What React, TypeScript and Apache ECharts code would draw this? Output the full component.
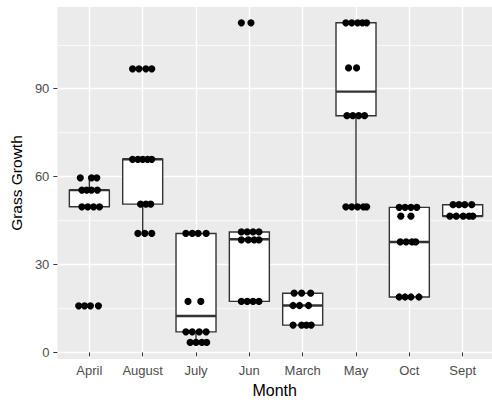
import React, { useEffect, useRef } from "react";
import * as echarts from "echarts";

const months = ["April", "August", "July", "Jun", "March", "May", "Oct", "Sept"];
const yTicks = [0, 30, 60, 90];
const yMinorTicks = [15, 45, 75, 105];

// box statistics per month: lower whisker, Q1, median, Q3, upper whisker
const boxLow = [49.7, 40.6, 3.4, 17.4, 9.3, 49.7, 18.9, 46.5];
const boxQ1 = [49.7, 50.6, 7.0, 17.4, 9.3, 80.8, 18.9, 46.5];
const boxMedian = [55.4, 65.9, 12.4, 38.6, 16.0, 89.0, 37.7, 46.5];
const boxQ3 = [55.4, 65.9, 40.6, 41.1, 20.2, 112.5, 49.5, 50.4];
const boxHigh = [59.6, 65.9, 40.6, 41.1, 20.2, 112.5, 49.5, 50.4];

// jittered observations per month
const pointValues: number[][] = [
  [59.6, 59.6, 59.6, 55.4, 55.4, 55.4, 55.4, 49.7, 49.7, 49.7, 49.7, 15.9, 15.9, 15.9, 15.9],
  [96.8, 96.8, 96.8, 96.8, 65.9, 65.9, 65.9, 65.9, 65.9, 50.6, 50.6, 50.6, 40.6, 40.6, 40.6],
  [40.6, 40.6, 40.6, 40.6, 17.4, 17.4, 7.0, 7.0, 7.0, 7.0, 3.4, 3.4, 3.4, 3.4],
  [112.5, 112.5, 41.1, 41.1, 41.1, 41.1, 38.4, 38.4, 38.4, 38.4, 17.4, 17.4, 17.4, 17.4],
  [20.2, 20.2, 20.2, 16.0, 16.0, 16.0, 9.3, 9.3, 9.3, 9.3],
  [112.5, 112.5, 112.5, 112.5, 112.5, 97.1, 97.1, 80.8, 80.8, 80.8, 80.8, 49.7, 49.7, 49.7, 49.7, 49.7],
  [49.5, 49.5, 49.5, 49.5, 46.5, 46.5, 37.7, 37.7, 37.7, 37.7, 18.9, 18.9, 18.9, 18.9],
  [50.4, 50.4, 50.4, 50.4, 46.5, 46.5, 46.5, 46.5, 46.5],
];
const pointJitter: number[][] = [
  [-0.17, 0.04, 0.14, -0.14, -0.05, 0.04, 0.15, -0.14, -0.03, 0.08, 0.19, -0.2, -0.09, 0.02, 0.17],
  [-0.19, -0.07, 0.06, 0.17, -0.19, -0.09, 0.0, 0.09, 0.17, -0.04, 0.06, 0.15, -0.09, 0.04, 0.17],
  [-0.19, -0.07, 0.04, 0.19, -0.15, 0.09, -0.19, -0.07, 0.06, 0.19, -0.11, 0.0, 0.11, 0.2],
  [-0.15, 0.03, -0.15, -0.04, 0.07, 0.18, -0.15, -0.02, 0.09, 0.18, -0.15, -0.04, 0.07, 0.18],
  [-0.16, -0.02, 0.15, -0.18, -0.06, 0.11, -0.18, -0.02, 0.07, 0.16],
  [-0.19, -0.08, 0.03, 0.12, 0.2, -0.14, 0.01, -0.17, -0.06, 0.05, 0.16, -0.19, -0.08, 0.03, 0.14, 0.2],
  [-0.19, -0.08, 0.03, 0.14, -0.16, 0.03, -0.17, -0.06, 0.05, 0.12, -0.19, -0.08, 0.03, 0.18],
  [-0.18, -0.07, 0.04, 0.17, -0.24, -0.12, 0.01, 0.12, 0.19],
];

const FONT = "'Liberation Sans', Arial, Helvetica, sans-serif";

export default function App() {
  const ref = useRef<HTMLDivElement>(null);

  useEffect(() => {
    document.body.style.margin = "0";
    if (!ref.current) return;
    const chart = echarts.init(ref.current, undefined, { renderer: "svg" });

    const boxData = months.map((_, i) => [
      i + 1,
      boxLow[i],
      boxQ1[i],
      boxMedian[i],
      boxQ3[i],
      boxHigh[i],
    ]);
    const scatterData: number[][] = [];
    months.forEach((_, i) => {
      pointValues[i].forEach((v, j) => {
        scatterData.push([i + 1 + pointJitter[i][j], v]);
      });
    });
    const catPositions = months.map((_, i) => i + 1);

    const lineColor = "#333333";

    chart.setOption({
      animation: false,
      grid: {
        left: 54,
        right: 0,
        top: 7,
        bottom: 40,
        show: true,
        backgroundColor: "#EBEBEB",
        borderWidth: 0,
      },
      xAxis: {
        type: "value",
        min: 0.4,
        max: 8.55,
        name: "Month",
        nameLocation: "middle",
        nameGap: 21,
        nameTextStyle: { fontFamily: FONT, fontSize: 16, color: "#000" },
        axisLine: { show: false },
        axisTick: {
          show: true,
          customValues: catPositions,
          length: 4,
          lineStyle: { color: lineColor, width: 1 },
        },
        axisLabel: {
          customValues: catPositions,
          formatter: (v: number) => months[Math.round(v) - 1] ?? "",
          color: "#4D4D4D",
          fontFamily: FONT,
          fontSize: 13,
          margin: 5,
        },
        splitLine: { show: true, lineStyle: { color: "#FFFFFF", width: 1.4 } },
      },
      yAxis: [
        {
          type: "value",
          min: -2.3,
          max: 117.9,
          name: "Grass Growth",
          nameLocation: "middle",
          nameGap: 30,
          nameRotate: 90,
          nameTextStyle: { fontFamily: FONT, fontSize: 15.5, color: "#000" },
          axisLine: { show: false },
          axisTick: {
            show: true,
            customValues: yTicks,
            length: 4,
            lineStyle: { color: lineColor, width: 1 },
          },
          axisLabel: {
            customValues: yTicks,
            color: "#4D4D4D",
            fontFamily: FONT,
            fontSize: 13,
            margin: 8,
          },
          splitLine: { show: true, lineStyle: { color: "#FFFFFF", width: 1.4 } },
        },
        {
          type: "value",
          min: -2.3,
          max: 117.9,
          position: "left",
          axisLine: { show: false },
          axisTick: { show: false, customValues: yMinorTicks },
          axisLabel: { show: false, customValues: yMinorTicks },
          splitLine: { show: true, lineStyle: { color: "#FFFFFF", width: 0.7 } },
        },
      ],
      series: [
        {
          type: "custom",
          name: "box",
          z: 2,
          encode: { x: 0, y: [1, 2, 3, 4, 5] },
          data: boxData,
          renderItem: (params: any, api: any) => {
            const x = api.value(0);
            const lo = api.coord([x, api.value(1)]);
            const q1 = api.coord([x, api.value(2)]);
            const med = api.coord([x, api.value(3)]);
            const q3 = api.coord([x, api.value(4)]);
            const hi = api.coord([x, api.value(5)]);
            const half = api.size([0.375, 0])[0];
            const stroke = { stroke: lineColor, lineWidth: 1.4 };
            return {
              type: "group",
              children: [
                {
                  type: "line",
                  shape: { x1: lo[0], y1: lo[1], x2: q1[0], y2: q1[1] },
                  style: stroke,
                },
                {
                  type: "line",
                  shape: { x1: q3[0], y1: q3[1], x2: hi[0], y2: hi[1] },
                  style: stroke,
                },
                {
                  type: "rect",
                  shape: {
                    x: q3[0] - half,
                    y: q3[1],
                    width: half * 2,
                    height: Math.max(q1[1] - q3[1], 0.5),
                  },
                  style: { fill: "#FFFFFF", stroke: lineColor, lineWidth: 1.4 },
                },
                {
                  type: "line",
                  shape: { x1: med[0] - half, y1: med[1], x2: med[0] + half, y2: med[1] },
                  style: { stroke: lineColor, lineWidth: 2.4 },
                },
              ],
            };
          },
        },
        {
          type: "scatter",
          name: "points",
          z: 3,
          symbol: "circle",
          symbolSize: 7.2,
          itemStyle: { color: "#000000", opacity: 1 },
          data: scatterData,
        },
      ],
    });

    return () => {
      chart.dispose();
    };
  }, []);

  return <div ref={ref} style={{ width: 492, height: 403 }} />;
}
